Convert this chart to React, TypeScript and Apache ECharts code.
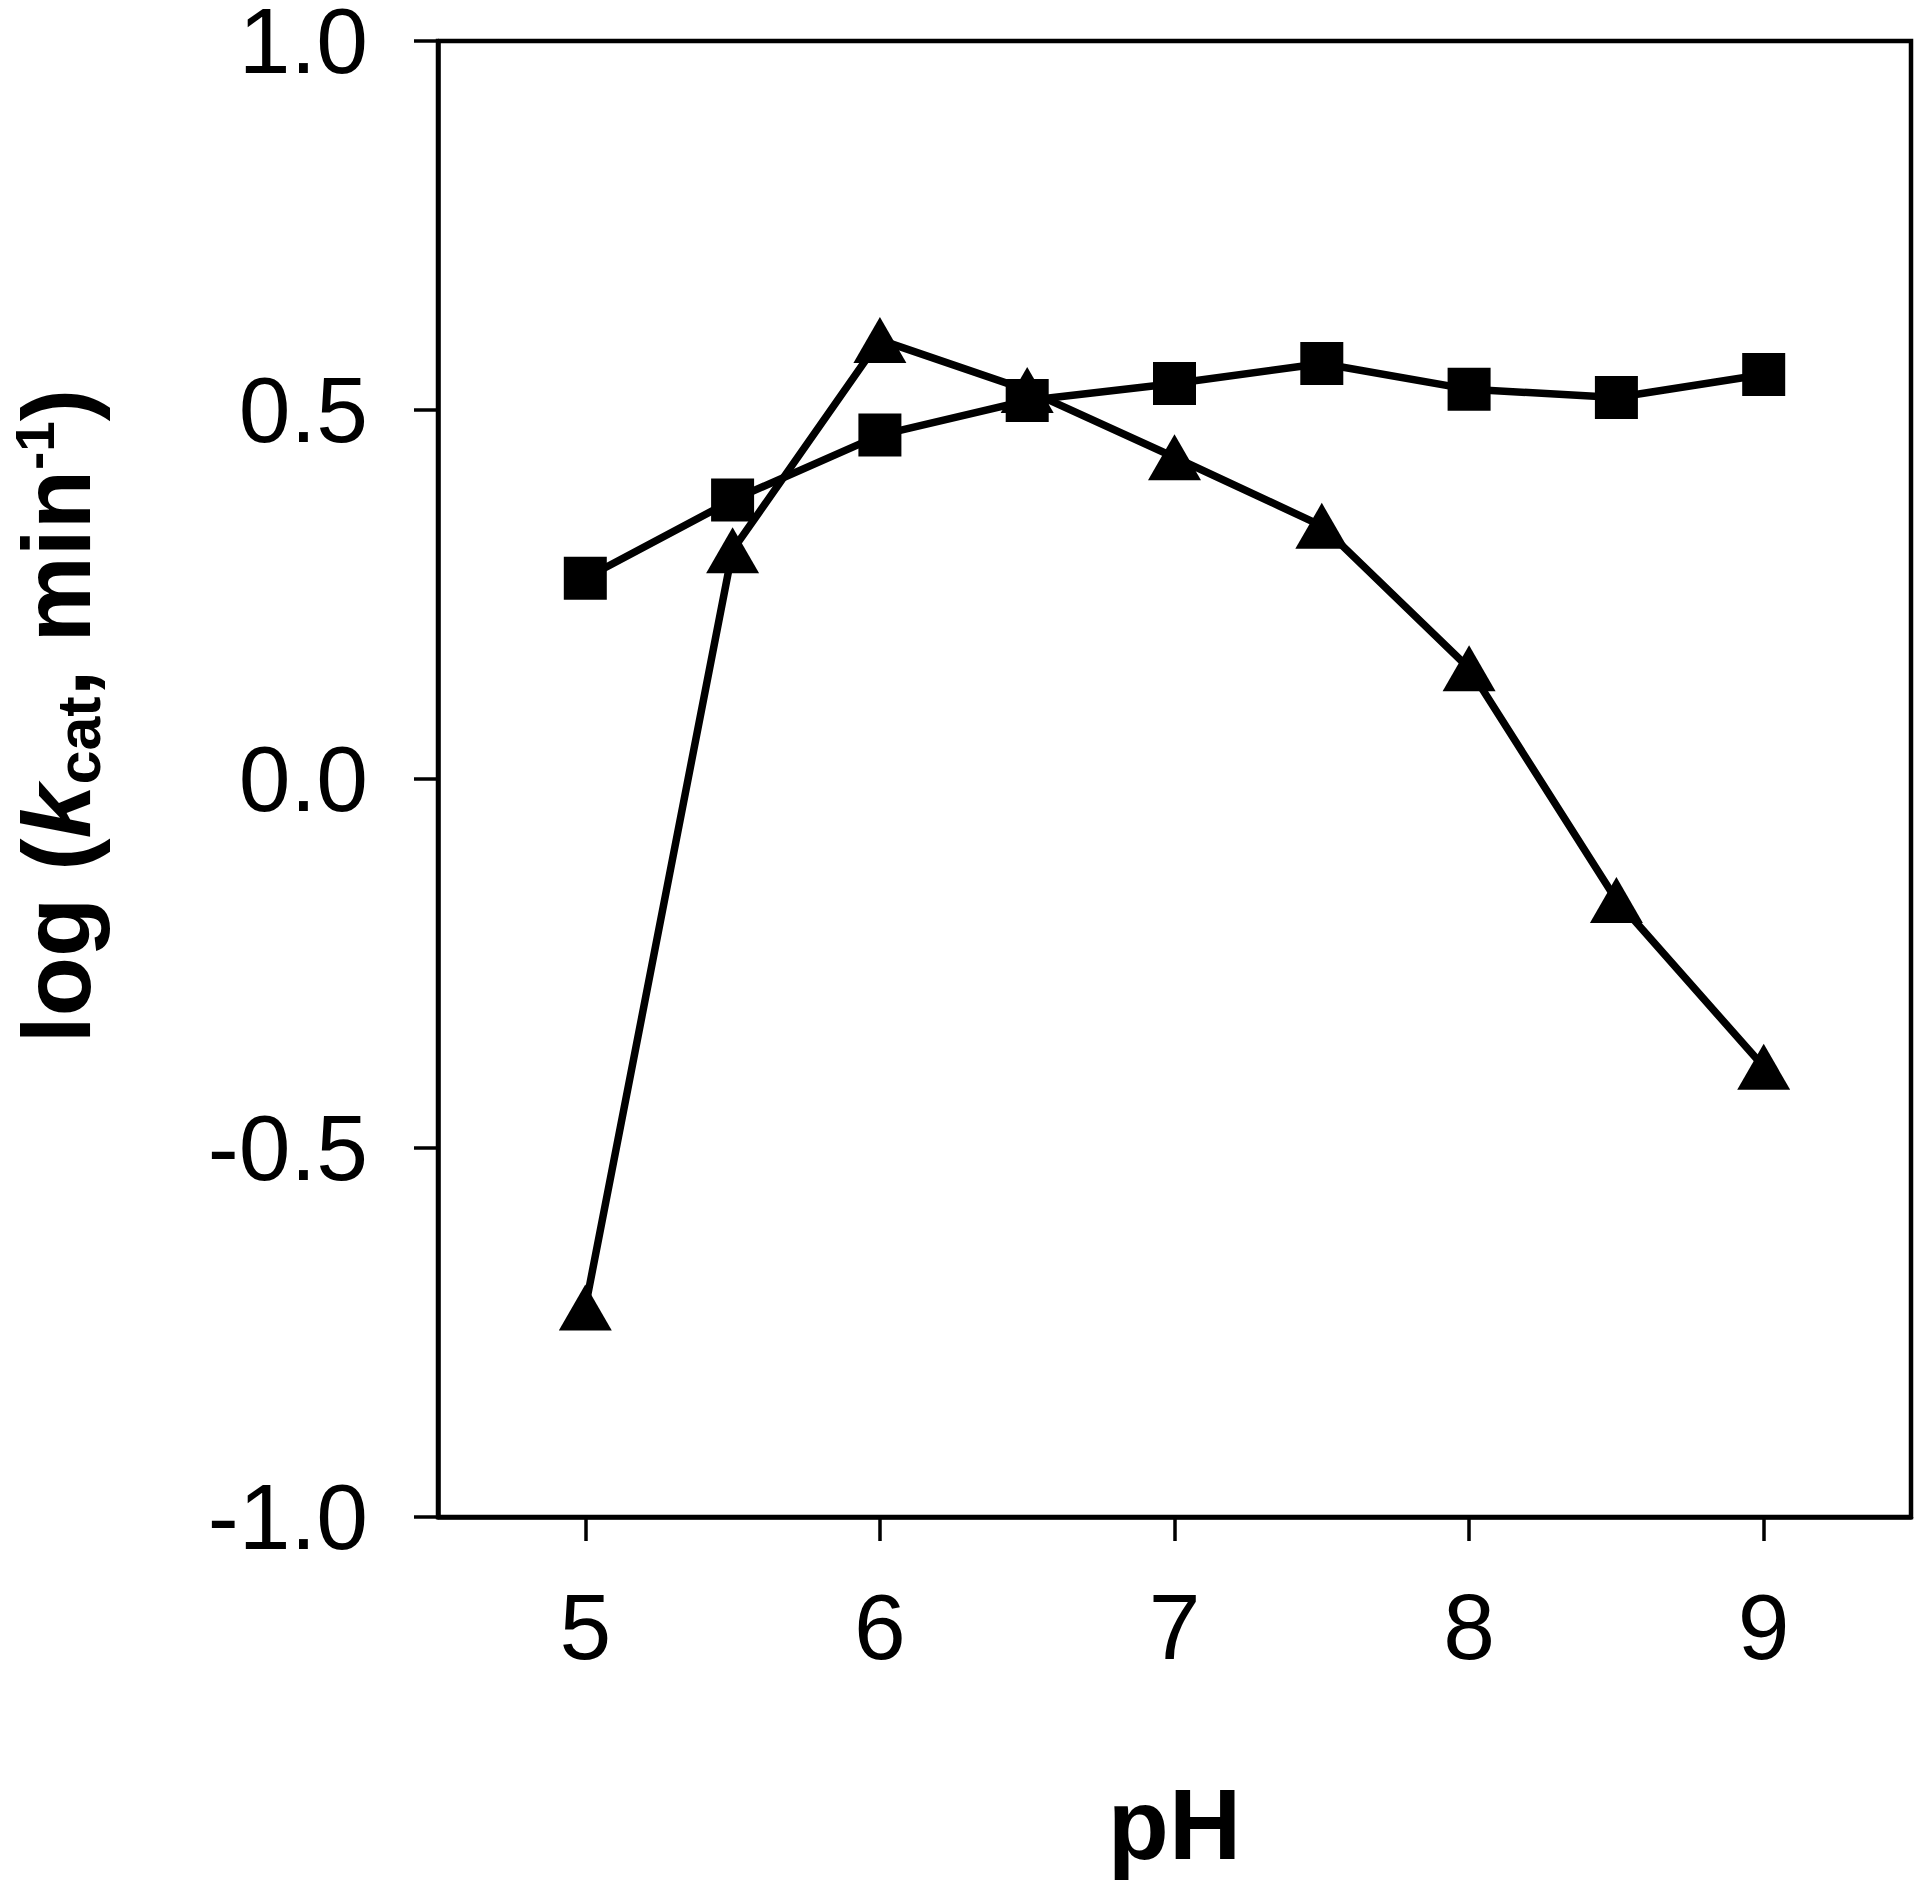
import React, { useEffect, useRef } from "react";
import * as echarts from "echarts";

const phValues = [5, 5.5, 6, 6.5, 7, 7.5, 8, 8.5, 9];
const squareValues = [0.272, 0.378, 0.466, 0.513, 0.536, 0.563, 0.528, 0.517, 0.548];
const triangleValues = [-0.716, 0.31, 0.595, 0.527, 0.436, 0.343, 0.15, -0.164, -0.39];
const xTickValues = [5, 6, 7, 8, 9];
const xAxisTitle = "pH";

const FONT = '"Liberation Sans", Arial, Helvetica, sans-serif';

export default function App() {
  const ref = useRef<HTMLDivElement>(null);

  useEffect(() => {
    if (!ref.current) return;
    const chart = echarts.init(ref.current, null, { renderer: "svg" });

    const pairs = (ys: number[]) => phValues.map((x, i) => [x, ys[i]]);

    chart.setOption({
      animation: false,
      backgroundColor: "#ffffff",
      grid: {
        left: 438,
        right: 9,
        top: 41,
        bottom: 373,
        outerBoundsMode: "none",
        containLabel: false,
        show: true,
        borderColor: "#000000",
        borderWidth: 4.5,
        backgroundColor: "transparent",
      },
      xAxis: {
        type: "value",
        min: 4.5,
        max: 9.5,
        name: xAxisTitle,
        nameLocation: "middle",
        nameGap: 257,
        nameTextStyle: {
          fontFamily: FONT,
          fontWeight: "bold",
          fontSize: 100,
          color: "#000000",
        },
        splitLine: { show: false },
        axisLine: { show: true, onZero: false, lineStyle: { color: "#000000", width: 4.5 } },
        axisTick: {
          show: true,
          inside: false,
          length: 24,
          customValues: xTickValues,
          lineStyle: { color: "#000000", width: 3.5 },
        },
        axisLabel: {
          show: true,
          customValues: xTickValues,
          margin: 63,
          fontFamily: FONT,
          fontSize: 93,
          color: "#000000",
          formatter: (v: number) => String(v),
        },
      },
      yAxis: {
        type: "value",
        min: -1,
        max: 1,
        interval: 0.5,
        splitLine: { show: false },
        axisLine: { show: true, onZero: false, lineStyle: { color: "#000000", width: 4.5 } },
        axisTick: {
          show: true,
          inside: false,
          length: 24,
          lineStyle: { color: "#000000", width: 3.5 },
        },
        axisLabel: {
          show: true,
          margin: 70,
          fontFamily: FONT,
          fontSize: 93,
          lineHeight: 76,
          color: "#000000",
          formatter: (v: number) => v.toFixed(1),
        },
      },
      graphic: [
        {
          type: "text",
          x: 50,
          y: 716,
          rotation: Math.PI / 2,
          style: {
            text: "{n|log (}{k|k}{sub|cat}{n|, min}{sup|-1}{n|)}",
            align: "center",
            verticalAlign: "middle",
            fill: "#000000",
            rich: {
              n: {
                fontFamily: FONT,
                fontWeight: "bold",
                fontSize: 97,
                lineHeight: 86,
                verticalAlign: "top",
                padding: [0.8, 0, 0, 0],
                fill: "#000000",
              },
              k: {
                fontFamily: FONT,
                fontWeight: "bold",
                fontStyle: "italic",
                fontSize: 97,
                lineHeight: 86,
                verticalAlign: "top",
                padding: [0.8, 0, 0, 0],
                fill: "#000000",
              },
              sub: {
                fontFamily: FONT,
                fontWeight: "bold",
                fontSize: 61,
                lineHeight: 62,
                verticalAlign: "top",
                padding: [41.5, 0, 0, 0],
                fill: "#000000",
              },
              sup: {
                fontFamily: FONT,
                fontWeight: "bold",
                fontSize: 55,
                lineHeight: 39,
                verticalAlign: "top",
                padding: [0, 0, 0, 0],
                fill: "#000000",
              },
            },
          },
        },
      ],
      series: [
        {
          name: "triangles",
          type: "line",
          data: pairs(triangleValues),
          symbol: "triangle",
          symbolSize: [53, 46],
          lineStyle: { color: "#000000", width: 7.5 },
          itemStyle: { color: "#000000", borderWidth: 0 },
          z: 2,
        },
        {
          name: "squares",
          type: "line",
          data: pairs(squareValues),
          symbol: "rect",
          symbolSize: 43,
          lineStyle: { color: "#000000", width: 7.5 },
          itemStyle: { color: "#000000", borderWidth: 0 },
          z: 3,
        },
      ],
    });

    return () => {
      chart.dispose();
    };
  }, []);

  return (
    <div
      ref={ref}
      style={{ position: "absolute", left: 0, top: 0, width: 1920, height: 1890 }}
    />
  );
}
